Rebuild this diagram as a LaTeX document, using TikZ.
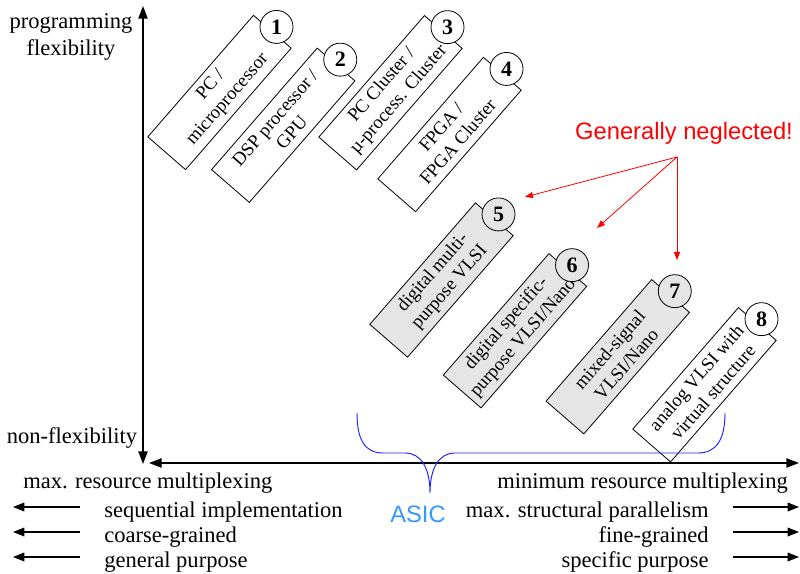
\documentclass[tikz,border=0pt]{standalone}
\usepackage{fontspec}
\setmainfont{Liberation Serif}
\newfontfamily\arialfont{Liberation Sans}
\usetikzlibrary{arrows.meta,calc}
\definecolor{boxgray}{RGB}{229,229,229}
\definecolor{asicblue}{RGB}{51,153,255}
\definecolor{bracecol}{RGB}{30,30,255}

\begin{document}
\begin{tikzpicture}[x=0.75pt,y=-0.75pt,
  box/.style={draw, line width=0.6pt, rotate=49, fill=white,
    minimum width=120.75pt, minimum height=37.5pt, inner sep=0pt,
    align=center, font=\fontsize{14}{16.6}\selectfont},
  grayfill/.style={fill=boxgray},
  num/.style={draw, circle, line width=0.6pt, fill=white,
    minimum size=24.75pt, inner sep=0pt,
    font=\fontsize{16.5}{16.5}\selectfont\bfseries},
  axis/.style={line width=1.1pt, {Triangle[length=9.5pt,width=7pt]}-{Triangle[length=9.5pt,width=7pt]}},
  side/.style={line width=0.9pt, -{Triangle[length=8.5pt,width=6.5pt]}},
  hint/.style={red, line width=0.6pt, -{Triangle[length=6pt,width=4.5pt]}},
  lbl/.style={anchor=base, inner sep=0pt, font=\fontsize{16.9}{20}\selectfont},
  sanslbl/.style={anchor=base, inner sep=0pt, font=\arialfont\fontsize{17.8}{20}\selectfont}
]
\useasboundingbox (0,0) rectangle (800,574);

% axes
\coordinate (ytop) at (143,6);
\coordinate (ybot) at (143,464);
\coordinate (xleft) at (149,463);
\coordinate (xright) at (799,463);
\draw[axis] (ybot) -- (ytop);
\draw[axis] (xleft) -- (xright);

% platform boxes with their numbers
\node[box] (b1) at (219.5,92.5) {PC /\\microprocessor};
\node[num] (n1) at ($(b1.east)+(49:4.5pt)$) {1};
\node[box] (b2) at (283.25,125.25) {DSP processor /\\GPU};
\node[num] (n2) at ($(b2.east)+(49:4.5pt)$) {2};
\node[box] (b3) at (390.5,92.75) {PC Cluster /\\µ-process. Cluster};
\node[num] (n3) at ($(b3.east)+(49:4.5pt)$) {3};
\node[box] (b4) at (449.5,134.5) {FPGA /\\FPGA Cluster};
\node[num] (n4) at ($(b4.east)+(49:4.5pt)$) {4};
\node[box,grayfill] (b5) at (441.5,280) {digital multi-\\purpose VLSI};
\node[num,grayfill] (n5) at ($(b5.east)+(49:4.5pt)$) {5};
\node[box,grayfill] (b6) at (515,330.75) {digital specific-\\purpose VLSI/Nano};
\node[num,grayfill] (n6) at ($(b6.east)+(49:4.5pt)$) {6};
\node[box,grayfill] (b7) at (617.75,356.75) {mixed-signal\\VLSI/Nano};
\node[num,grayfill] (n7) at ($(b7.east)+(49:4.5pt)$) {7};
\node[box] (b8) at (704.5,384.75) {analog VLSI with\\virtual structure};
\node[num] (n8) at ($(b8.east)+(49:4.5pt)$) {8};

% ASIC brace
\draw[bracecol, line width=0.7pt]
  (357,413) .. controls (357,440) and (365,453) .. (383,453) -- (405,453)
  .. controls (421,453) and (430,468) .. (430,493)
  .. controls (430,468) and (439,453) .. (455,453) -- (698,453)
  .. controls (716,453) and (725,440) .. (725,413);
\node[sanslbl, text=asicblue] (asic) at (418,522) {ASIC};

% neglected classes
\node[sanslbl, text=red] (neglect) at (684,140) {Generally neglected!};
\coordinate (fan) at (677,157);
\coordinate (tip5) at (525,197);
\coordinate (tip6) at (597,228);
\coordinate (tip7) at (677,260);
\draw[hint] (fan) -- (tip5);
\draw[hint] (fan) -- (tip6);
\draw[hint] (fan) -- (tip7);

% axis labels
\node[lbl] (ylab1) at (71,29) {programming};
\node[lbl] (ylab2) at (71,56) {flexibility};
\node[lbl] (ylow) at (72,443) {non-flexibility};
\node[lbl, anchor=base west] (xlow) at (23,488) {max. resource multiplexing};
\node[lbl, anchor=base east] (xhigh) at (788,488) {minimum resource multiplexing};

% left-hand properties
\node[lbl, anchor=base west] (l1) at (104,517) {sequential implementation};
\node[lbl, anchor=base west] (l2) at (104,542) {coarse-grained};
\node[lbl, anchor=base west] (l3) at (104,567) {general purpose};
% right-hand properties
\node[lbl, anchor=base east] (r1) at (709,517) {max. structural parallelism};
\node[lbl, anchor=base east] (r2) at (709,542) {fine-grained};
\node[lbl, anchor=base east] (r3) at (709,567) {specific purpose};

\foreach \i/\y in {1/507,2/532,3/557}{
  \coordinate (ls\i) at (80,\y);
  \coordinate (le\i) at (13,\y);
  \coordinate (rs\i) at (733,\y);
  \coordinate (re\i) at (799,\y);
  \draw[side] (ls\i) -- (le\i);
  \draw[side] (rs\i) -- (re\i);
}
\end{tikzpicture}
\end{document}
